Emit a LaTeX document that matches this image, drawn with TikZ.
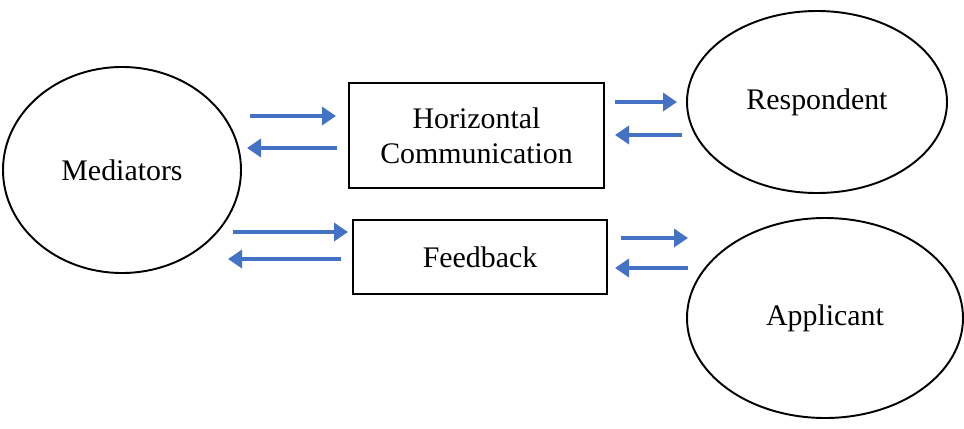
\documentclass[tikz,border=0pt]{standalone}
\usepackage{fontspec}
\setmainfont{Liberation Serif}
\usepackage{tikz}
\usetikzlibrary{shapes.geometric,arrows.meta}
\definecolor{flowblue}{HTML}{4472C4}
\tikzstyle{party} = [ellipse,draw=black,line width=1.1pt,inner sep=0pt,
    font=\fontsize{17}{20}\selectfont]
\tikzstyle{channel} = [rectangle,draw=black,line width=1.1pt,align=center,
    font=\fontsize{17}{20}\selectfont]
\tikzstyle{flow} = [draw=flowblue,line width=2.3pt,
    -{Triangle[length=0.28cm,width=0.36cm]}]

\begin{document}
\begin{tikzpicture}
    \useasboundingbox (0,0) rectangle (19.28,8.56);

	\node(mediators) at (2.44,5.16) [party,minimum width=4.76cm,minimum height=4.12cm] {Mediators};
	\node(respondent) at (16.34,6.52) [party,minimum width=5.2cm,minimum height=3.64cm] {Respondent};
	\node(applicant) at (16.5,2.2) [party,minimum width=5.52cm,minimum height=4.0cm] {Applicant};

	\node(horizontal) at (9.53,5.85) [channel,minimum width=5.1cm,minimum height=2.1cm] {Horizontal\\Communication};
	\node(feedback) at (9.6,3.42) [channel,minimum width=5.08cm,minimum height=1.48cm] {Feedback};

	% arrow ends between the parties and the channels
	\coordinate (mh-out-a) at (5.0,6.24);   \coordinate (mh-out-b) at (6.72,6.24);
	\coordinate (mh-in-a)  at (6.74,5.6);   \coordinate (mh-in-b)  at (4.94,5.6);
	\coordinate (mf-out-a) at (4.66,3.92);  \coordinate (mf-out-b) at (6.96,3.92);
	\coordinate (mf-in-a)  at (6.82,3.38);  \coordinate (mf-in-b)  at (4.56,3.38);
	\coordinate (hr-out-a) at (12.3,6.52);  \coordinate (hr-out-b) at (13.54,6.52);
	\coordinate (hr-in-a)  at (13.64,5.86); \coordinate (hr-in-b)  at (12.3,5.86);
	\coordinate (fa-out-a) at (12.42,3.8);  \coordinate (fa-out-b) at (13.76,3.8);
	\coordinate (fa-in-a)  at (13.76,3.2);  \coordinate (fa-in-b)  at (12.3,3.2);

	\draw[flow] (mh-out-a) -- (mh-out-b);
	\draw[flow] (mh-in-a) -- (mh-in-b);
	\draw[flow] (mf-out-a) -- (mf-out-b);
	\draw[flow] (mf-in-a) -- (mf-in-b);
	\draw[flow] (hr-out-a) -- (hr-out-b);
	\draw[flow] (hr-in-a) -- (hr-in-b);
	\draw[flow] (fa-out-a) -- (fa-out-b);
	\draw[flow] (fa-in-a) -- (fa-in-b);

\end{tikzpicture}
\end{document}
